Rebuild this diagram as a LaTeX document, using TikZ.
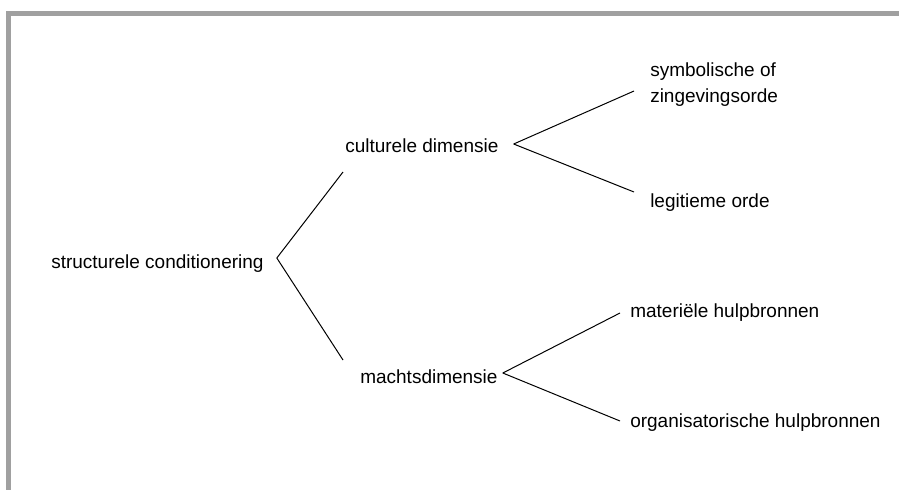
\documentclass[tikz,border=0pt]{standalone}
\usepackage{fontspec}
\setmainfont{Liberation Sans}
\usepackage{xcolor}
\usepackage{tikz}
\usetikzlibrary{positioning,calc}

\definecolor{framegray}{HTML}{A0A0A0}

\begin{document}
\begin{tikzpicture}[
    x=0.75pt, y=-0.75pt,
    term/.style={inner sep=0pt, align=left, font=\fontsize{14.25}{19.5}\selectfont},
    branch/.style={black, line width=0.75pt}
]
\useasboundingbox (0,0) rectangle (899,490);
% frame on top and left
\fill[framegray] (6,11) rectangle (899,16);
\fill[framegray] (6,11) rectangle (11,490);

\node[term, anchor=base west] (root) at (51,268) {structurele conditionering};
\node[term, anchor=base west] (cult) at (345,152) {culturele dimensie};
\node[term, anchor=base west] (macht) at (360,383) {machtsdimensie};
\node[term, anchor=north west] (symb) at (650,62) {symbolische of\\zingevingsorde};
\node[term, anchor=base west] (legit) at (650,207) {legitieme orde};
\node[term, anchor=base west] (mat) at (630,317) {materiële hulpbronnen};
\node[term, anchor=base west] (org) at (630,427) {organisatorische hulpbronnen};

% junction points and line ends
\coordinate (rootj) at ($(root.base east)+(13,-10)$);
\coordinate (cultj) at ($(cult.base east)+(15,-8)$);
\coordinate (machtj) at ($(macht.base east)+(5,-10)$);
\coordinate (cultin) at ($(cult.base west)+(-2,20)$);
\coordinate (machtin) at ($(macht.base west)+(-17,-23)$);
\coordinate (symbin) at ($(symb.north west)+(-16,29)$);
\coordinate (legitin) at ($(legit.base west)+(-16,-15)$);
\coordinate (matin) at ($(mat.base west)+(-10,-4)$);
\coordinate (orgin) at ($(org.base west)+(-10,-6)$);

\foreach \a/\b in {rootj/cultin,rootj/machtin,cultj/symbin,cultj/legitin,machtj/matin,machtj/orgin} {
    \draw[branch] (\a) -- (\b);
}
\end{tikzpicture}
\end{document}
